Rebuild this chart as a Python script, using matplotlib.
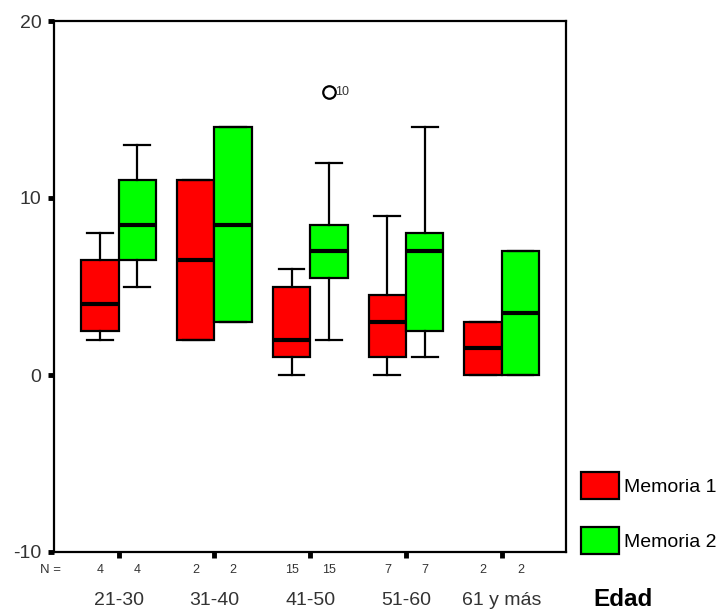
import matplotlib
matplotlib.use("Agg")
import matplotlib.pyplot as plt
from matplotlib.patches import Patch

plt.rcParams['font.family'] = ['Liberation Sans', 'DejaVu Sans']

groups = ["21-30", "31-40", "41-50", "51-60", "61 y más"]
n_m1 = [4, 2, 15, 7, 2]
n_m2 = [4, 2, 15, 7, 2]

# Memoria 1 (red)
m1_whislo = [2, 2, 0, 0, 0]
m1_q1 = [2.5, 2, 1, 1, 0]
m1_med = [4, 6.5, 2, 3, 1.5]
m1_q3 = [6.5, 11, 5, 4.5, 3]
m1_whishi = [8, 11, 6, 9, 3]

# Memoria 2 (green)
m2_whislo = [5, 3, 2, 1, 0]
m2_q1 = [6.5, 3, 5.5, 2.5, 0]
m2_med = [8.5, 8.5, 7, 7, 3.5]
m2_q3 = [11, 14, 8.5, 8, 7]
m2_whishi = [13, 14, 12, 14, 7]

outlier_group = 3
outlier_value = 16
outlier_label = "10"

fig = plt.figure(figsize=(7.22, 6.10), dpi=100)
ax = fig.add_axes([54/722, 1-552/610, (566-54)/722, (552-21)/610])

def stats(wl, q1, md, q3, wh, fl):
    return [dict(whislo=a, q1=b, med=c, q3=d, whishi=e, fliers=f)
            for a, b, c, d, e, f in zip(wl, q1, md, q3, wh, fl)]

fl1 = [[] for _ in groups]
fl2 = [[] for _ in groups]
fl2[outlier_group - 1] = [outlier_value]

off = 0.195
w = 0.39
pos1 = [i + 1 - off for i in range(len(groups))]
pos2 = [i + 1 + off for i in range(len(groups))]

common = dict(widths=w, capwidths=0.27, patch_artist=True, manage_ticks=False,
              whiskerprops=dict(color='black', linewidth=1.6),
              capprops=dict(color='black', linewidth=1.6),
              medianprops=dict(color='black', linewidth=3.0),
              flierprops=dict(marker='o', markerfacecolor='none',
                              markeredgecolor='black', markersize=9, markeredgewidth=1.6))
ax.bxp(stats(m1_whislo, m1_q1, m1_med, m1_q3, m1_whishi, fl1), positions=pos1,
       boxprops=dict(facecolor='#ff0000', edgecolor='black', linewidth=1.6), **common)
ax.bxp(stats(m2_whislo, m2_q1, m2_med, m2_q3, m2_whishi, fl2), positions=pos2,
       boxprops=dict(facecolor='#00ff00', edgecolor='black', linewidth=1.6), **common)

ax.text(pos2[outlier_group - 1] + 0.06, outlier_value, outlier_label,
        fontsize=9, va='center', ha='left', color='#333333', zorder=5)

ax.set_xlim(0.325, 5.67)
ax.set_ylim(-10, 20)
ax.set_yticks([-10, 0, 10, 20])
ax.set_yticklabels(["-10", "0", "10", "20"], fontsize=14, color='#333333')
ax.set_xticks(range(1, len(groups) + 1))
ax.set_xticklabels([])
ax.tick_params(axis='y', length=4, width=3.5, pad=5, direction='out')
ax.tick_params(axis='x', length=4, width=3.5, direction='out')
for s in ax.spines.values():
    s.set_linewidth(1.6)

# N row
ytrN = ax.get_xaxis_transform()
ax.text(0.29, -0.034, "N =", transform=ytrN, fontsize=9.5, ha='center', va='center', color='#333333')
for i in range(len(groups)):
    ax.text(pos1[i], -0.034, str(n_m1[i]), transform=ytrN, fontsize=9, ha='center', va='center', color='#333333')
    ax.text(pos2[i], -0.034, str(n_m2[i]), transform=ytrN, fontsize=9, ha='center', va='center', color='#333333')
    ax.text(i + 1, -0.092, groups[i], transform=ytrN, fontsize=14, ha='center', va='center', color='#333333')

fig.text(593/722, 1-599/610, "Edad", fontsize=17.5, fontweight='bold', ha='left', va='center')

handles = [Patch(facecolor='#ff0000', edgecolor='black', linewidth=1.6, label='Memoria 1'),
           Patch(facecolor='#00ff00', edgecolor='black', linewidth=1.6, label='Memoria 2')]
fig.legend(handles=handles, loc='upper left', bbox_to_anchor=(581/722, 1-472/610),
           frameon=False, fontsize=14, handlelength=1.95, handleheight=1.75,
           handletextpad=0.25, labelspacing=1.45, borderaxespad=0, borderpad=0)

fig.savefig("out.png", dpi=100)
